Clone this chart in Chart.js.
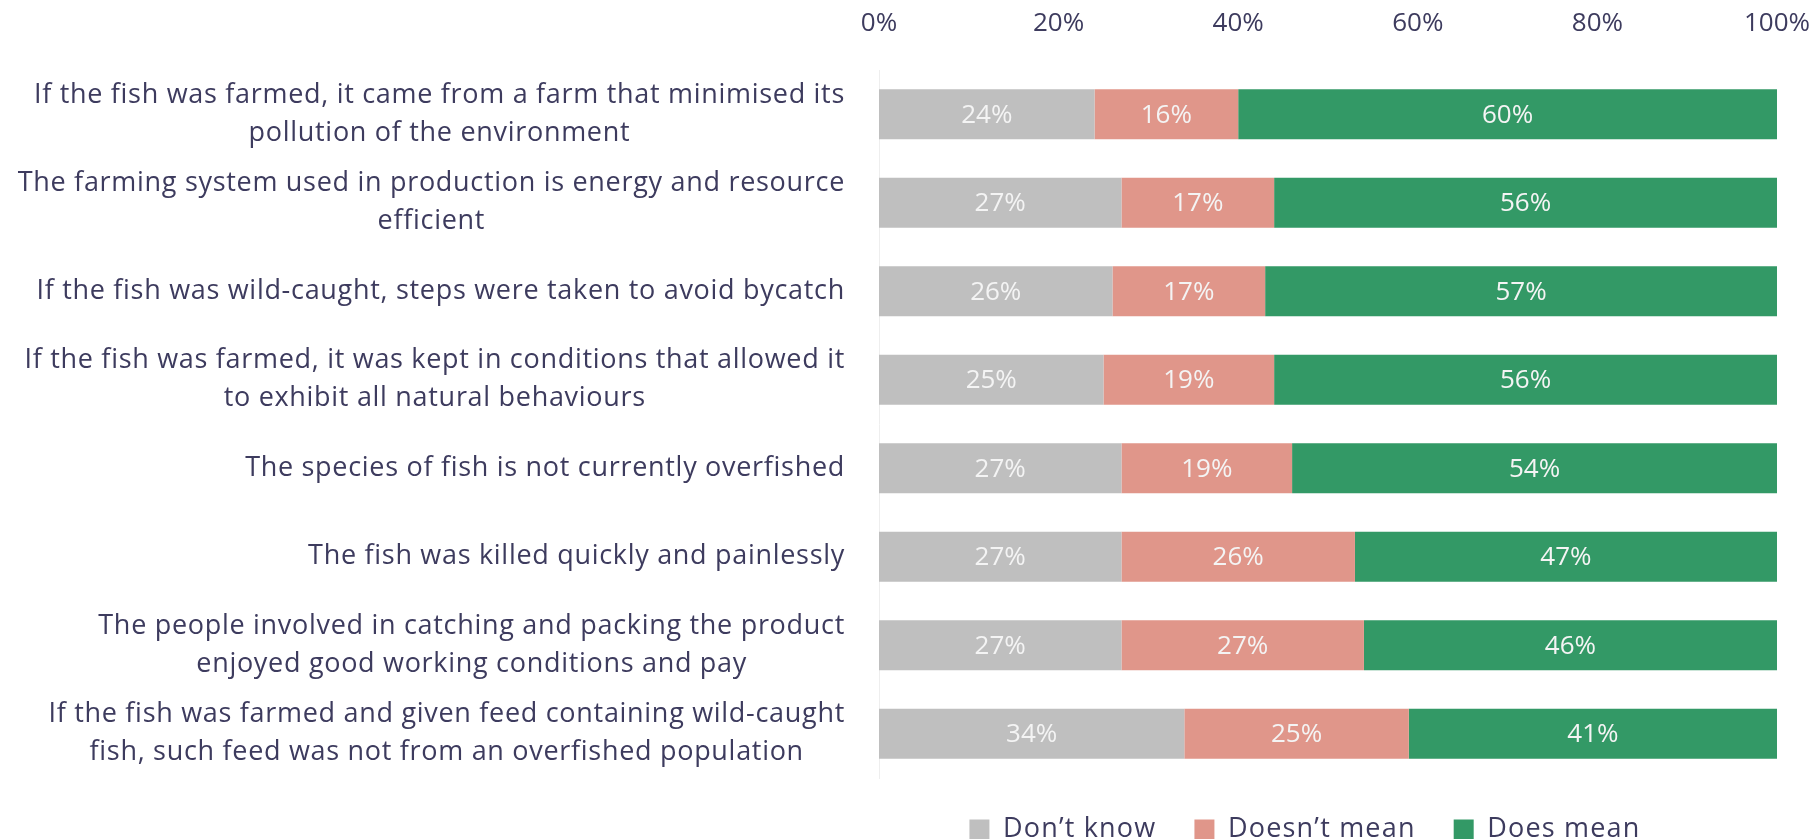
<!DOCTYPE html>
<html>
<head>
<meta charset="utf-8">
<script src="https://cdn.jsdelivr.net/npm/chart.js@4.4.0/dist/chart.umd.min.js"></script>
<style>
  html, body { margin: 0; padding: 0; background: #fff; }
</style>
</head>
<body>
<canvas id="chart" width="1813" height="839"></canvas>
<script>
const categories = [
  ['If the fish was farmed, it came from a farm that minimised its', 'pollution of the environment'],
  ['The farming system used in production is energy and resource', 'efficient'],
  ['If the fish was wild-caught, steps were taken to avoid bycatch'],
  ['If the fish was farmed, it was kept in conditions that allowed it', 'to exhibit all natural behaviours'],
  ['The species of fish is not currently overfished'],
  ['The fish was killed quickly and painlessly'],
  ['The people involved in catching and packing the product', 'enjoyed good working conditions and pay'],
  ['If the fish was farmed and given feed containing wild-caught', 'fish, such feed was not from an overfished population']
];
const seriesNames = ['Don\u2019t know', 'Doesn\u2019t mean', 'Does mean'];
const dontKnow = [24, 27, 26, 25, 27, 27, 27, 34];
const doesntMean = [16, 17, 17, 19, 19, 26, 27, 25];
const doesMean = [60, 56, 57, 56, 54, 47, 46, 41];
const xTicks = [0, 20, 40, 60, 80, 100];

const textColor = '#3d3b5e';
const fontFamily = '"Open Sans", sans-serif';

// etiquetas de ejes y de barras dibujadas a mano
const labelPlugin = {
    id: 'customLabels',
    beforeLayout(chart) {
        // espaciado de letras para la leyenda (fuente mas ancha en el original)
        chart.ctx.letterSpacing = '1.2px';
    },
    afterLayout(chart) {
        // centrar la leyenda bajo el area del grafico
        const legend = chart.legend;
        legend.left = chart.chartArea.left - 46;
        legend.right = chart.chartArea.right;
    },
    beforeDraw(chart) {
        chart.ctx.letterSpacing = '1.2px';
    },
    afterDraw(chart) {
        const ctx = chart.ctx;
        const xScale = chart.scales.x;
        const yScale = chart.scales.y;
        ctx.save();
        ctx.letterSpacing = '0px';

        // ticks del eje x
        ctx.font = '26px ' + fontFamily;
        ctx.fillStyle = textColor;
        ctx.textAlign = 'center';
        ctx.textBaseline = 'middle';
        xTicks.forEach(v => {
            const text = v + '%';
            const w = ctx.measureText(text).width;
            const px = Math.min(xScale.getPixelForValue(v), chart.width - 2 - w / 2);
            ctx.fillText(text, px, xScale.bottom - 46);
        });

        // categorias del eje y (bloque alineado a la derecha, lineas centradas)
        ctx.font = '27px ' + fontFamily;
        ctx.letterSpacing = '0.7px';
        const lineHeight = 38;
        const rightEdge = yScale.right - 34;
        categories.forEach((lines, i) => {
            const cy = yScale.getPixelForValue(i);
            const maxW = Math.max(...lines.map(l => ctx.measureText(l).width));
            const cx = rightEdge - maxW / 2;
            lines.forEach((line, j) => {
                const ly = cy + (j - (lines.length - 1) / 2) * lineHeight;
                ctx.fillText(line, cx, ly);
            });
        });

        // valores dentro de las barras
        ctx.font = '26px ' + fontFamily;
        ctx.letterSpacing = '0px';
        ctx.fillStyle = '#f4f4f4';
        chart.data.datasets.forEach((ds, d) => {
            const meta = chart.getDatasetMeta(d);
            meta.data.forEach((bar, i) => {
                ctx.fillText(ds.data[i] + '%', (bar.x + bar.base) / 2, bar.y + 1);
            });
        });
        ctx.restore();
    }
};

const ctx = document.getElementById('chart').getContext('2d');
new Chart(ctx, {
    type: 'bar',
    data: {
        labels: categories,
        datasets: [{
            label: seriesNames[0],
            data: dontKnow,
            backgroundColor: '#bfbfbf'
        }, {
            label: seriesNames[1],
            data: doesntMean,
            backgroundColor: '#e0968a'
        }, {
            label: seriesNames[2],
            data: doesMean,
            backgroundColor: '#339966'
        }]
    },
    options: {
        indexAxis: 'y',
        responsive: false,
        animation: false,
        barPercentage: 0.565,
        categoryPercentage: 1,
        layout: { padding: { left: 0, right: 36, top: 0, bottom: 0 } },
        scales: {
            x: {
                position: 'top',
                stacked: true,
                min: 0,
                max: 100,
                ticks: { display: false, stepSize: 20 },
                grid: { display: false },
                border: { display: false },
                afterFit: scale => { scale.height = 70; }
            },
            y: {
                stacked: true,
                ticks: { display: false },
                grid: { display: false },
                border: { display: true, color: '#eeeeee', width: 1 },
                afterFit: scale => { scale.width = 879; }
            }
        },
        plugins: {
            tooltip: { enabled: false },
            legend: {
                position: 'bottom',
                maxHeight: 61,
                labels: {
                    boxWidth: 20,
                    boxHeight: 20,
                    padding: 38,
                    color: textColor,
                    font: { family: fontFamily, size: 27 }
                }
            }
        }
    },
    plugins: [labelPlugin]
});
</script>
</body>
</html>
